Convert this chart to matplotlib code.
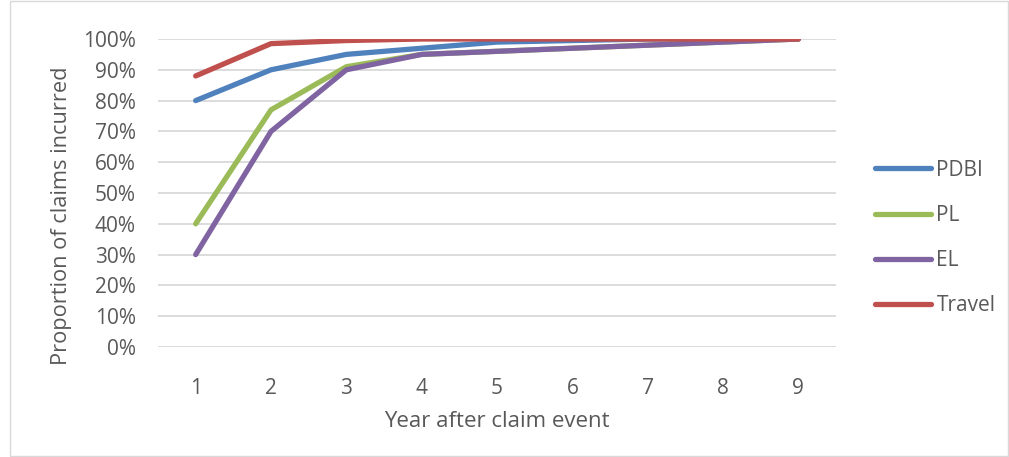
import matplotlib.pyplot as plt
from matplotlib.patches import Rectangle

years = [1, 2, 3, 4, 5, 6, 7, 8, 9]
pdbi = [0.80, 0.90, 0.95, 0.97, 0.99, 0.995, 1.0, 1.0, 1.0]
pl = [0.40, 0.77, 0.91, 0.95, 0.96, 0.97, 0.98, 0.99, 1.0]
el = [0.30, 0.70, 0.90, 0.95, 0.96, 0.97, 0.98, 0.99, 1.0]
travel = [0.88, 0.985, 0.995, 1.0, 1.0, 1.0, 1.0, 1.0, 1.0]

series = [("PDBI", pdbi, "#4F81BD"), ("PL", pl, "#9BBB59"),
          ("EL", el, "#8064A2"), ("Travel", travel, "#C0504D")]
y_ticks = [i / 10 for i in range(11)]

plt.rcParams['font.family'] = ['Open Sans', 'DejaVu Sans']
text_col = "#595959"

fig = plt.figure(figsize=(10.09, 4.57), dpi=100)
ax = fig.add_axes([158 / 1009, 1 - 347 / 457, (836 - 158) / 1009, (347 - 39) / 457])

for name, vals, col in series:
    ax.plot(years, vals, color=col, lw=3.8, solid_capstyle='round',
            solid_joinstyle='round', label=name)

ax.set_xlim(0.5, 9.5)
ax.set_ylim(0, 1.0)
ax.set_yticks(y_ticks)
ax.set_yticklabels([f"{int(round(t * 100))}%" for t in y_ticks])
ax.set_xticks(years)
ax.grid(axis='y', color="#D9D9D9", lw=1.3)
ax.set_axisbelow(True)
for s in ax.spines.values():
    s.set_visible(False)
ax.tick_params(length=0, labelsize=15, labelcolor=text_col)
ax.tick_params(axis='y', pad=16)
ax.tick_params(axis='x', pad=22)
ax.set_xlabel("Year after claim event", fontsize=16, color=text_col, labelpad=9)
ax.set_ylabel("Proportion of claims incurred", fontsize=15.7, color=text_col)
ax.yaxis.set_label_coords(-0.127, 0.425)

leg = ax.legend(loc='upper left', bbox_to_anchor=(1.0575, 0.608), frameon=False,
                fontsize=15, labelspacing=1.16, handlelength=2.7, handletextpad=0.25,
                borderpad=0, borderaxespad=0)
for t in leg.get_texts():
    t.set_color(text_col)

fig.patches.append(Rectangle((10 / 1009, 0.002), 1 - 11 / 1009, 0.996,
                             transform=fig.transFigure, fill=False,
                             edgecolor="#D9D9D9", lw=1))

fig.savefig("out.png", dpi=100)
